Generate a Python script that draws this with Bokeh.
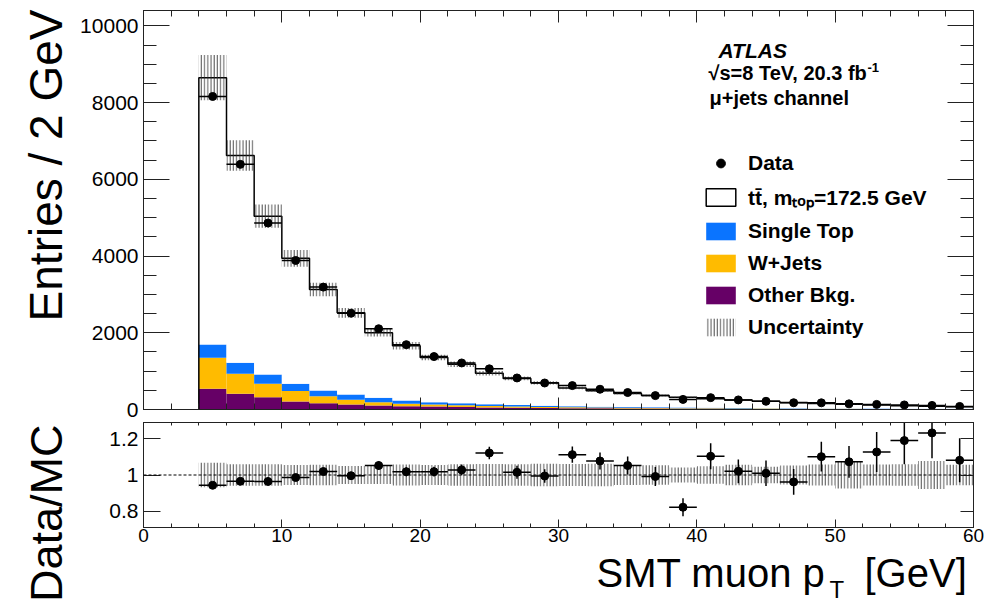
import math
import numpy as np
from bokeh.plotting import figure
from bokeh.layouts import column, row
from bokeh.models import (ColumnDataSource, Range1d, LinearAxis, FixedTicker, Label,
                          Legend, LegendItem, Span)
from bokeh.embed import file_html
from bokeh.resources import INLINE

# ---------------- data ----------------
bin_low = [4, 6, 8, 10, 12, 14, 16, 18, 20, 22, 24, 26, 28, 30, 32, 34, 36, 38, 40, 42,
           44, 46, 48, 50, 52, 54, 56, 58]
bin_high = [6, 8, 10, 12, 14, 16, 18, 20, 22, 24, 26, 28, 30, 32, 34, 36, 38, 40, 42, 44,
            46, 48, 50, 52, 54, 56, 58, 60]
data_counts = [8160, 6390, 4860, 3885, 3190, 2510, 2105, 1690, 1380, 1213,
               1060, 822, 691, 623, 528, 442, 362, 263, 309, 250,
               214, 176, 174, 147, 133, 119, 106, 80]
data_err = [90, 80, 70, 62, 56, 50, 46, 41, 37, 35,
            33, 29, 26, 25, 23, 21, 19, 16, 20, 16,
            15, 13, 13, 12, 13, 13, 12, 9]
ttbar = [6955, 5403, 4127, 3268, 2635, 2129, 1696, 1425, 1164, 1020,
         810, 695, 596, 474, 416, 356, 309, 271, 237, 206,
         178, 152, 130, 112, 95, 79, 68, 57]
single_top = [347, 287, 243, 192, 147, 139, 113, 87, 61, 50,
              42, 36, 31, 27, 23, 20, 17, 15, 13, 12,
              10, 9, 8, 7, 7, 6, 5, 5]
w_jets = [808, 520, 350, 270, 183, 122, 87, 61, 52, 45,
          38, 32, 28, 24, 21, 18, 16, 14, 12, 11,
          10, 9, 8, 7, 6, 6, 5, 5]
other_bkg = [540, 410, 320, 210, 165, 130, 104, 87, 78, 65,
             55, 47, 40, 35, 30, 26, 23, 20, 18, 16,
             14, 13, 12, 11, 10, 9, 8, 7]
syst_rel = [0.068, 0.060, 0.060, 0.055, 0.056, 0.050, 0.050, 0.058, 0.055, 0.060,
            0.061, 0.060, 0.062, 0.061, 0.062, 0.055, 0.054, 0.042, 0.048, 0.056,
            0.046, 0.052, 0.058, 0.075, 0.058, 0.060, 0.077, 0.056]

x_ticks = [0, 10, 20, 30, 40, 50, 60]
x_minor_ticks = list(range(0, 61, 2))
y_ticks = [0, 2000, 4000, 6000, 8000, 10000]
y_minor_ticks = list(range(0, 10401, 500))
ratio_ticks = [0.8, 1.0, 1.2]
ratio_tick_labels = {0.8: "0.8", 1: "1", 1.2: "1.2"}

# ---------------- layout constants (page pixels) ----------------
FONT = "Liberation Sans"
W = 991
LEFT_W = 74                 # strip holding the rotated y titles
MAIN_W = W - LEFT_W
FL, FR = 143, 973           # frame left / right on the page
TOP_H = 422
TOP_FT, TOP_FB = 10, 409
RAT_FT, RAT_FB = 422, 527
FOOT_T = 550
PAGE_H = 603
X_MAX = 60
Y_MAX = 10400
R_MIN, R_MAX = 0.71, 1.29
BASE_SHIFT = 0.36           # em offset between a Label anchor and the drawn baseline

C_ST = "#0a74ff"
C_WJ = "#ffbb00"
C_OT = "#660066"
HATCH = dict(hatch_pattern="vertical_line", hatch_color="#2a2a2a", hatch_alpha=0.8,
             hatch_scale=3.2, hatch_weight=1)


def top_x(px):
    return (px - FL) * X_MAX / (FR - FL)


def top_y(py):
    return (TOP_FB - py) * Y_MAX / (TOP_FB - TOP_FT)


# ---------------- derived arrays ----------------
lo = np.array(bin_low, float)
hi = np.array(bin_high, float)
ctr = (lo + hi) / 2
ot = np.array(other_bkg, float)
wj = ot + np.array(w_jets, float)
st = wj + np.array(single_top, float)
tot = st + np.array(ttbar, float)
dat = np.array(data_counts, float)
derr = np.array(data_err, float)
srel = np.array(syst_rel, float)

src = ColumnDataSource(dict(
    lo=lo, hi=hi, ctr=ctr, zero=np.zeros_like(lo), ot=ot, wj=wj, st=st, tot=tot,
    up=tot * (1 + srel), dn=tot * (1 - srel),
    dat=dat, dlo=dat - derr, dhi=dat + derr,
    ratio=dat / tot, rlo=(dat - derr) / tot, rhi=(dat + derr) / tot,
    bup=1 + srel, bdn=1 - srel,
))

step_x = [bin_low[0]]
step_y = [0.0]
for l, h, t in zip(lo, hi, tot):
    step_x += [l, h]
    step_y += [t, t]
step_x.append(bin_high[-1])
step_y.append(0.0)

x_range = Range1d(0, X_MAX)


def style_axis(ax, major_in, minor_in, labels=True, ticks=None, minor=None):
    ax.ticker = FixedTicker(ticks=ticks, minor_ticks=minor if minor is not None else [])
    ax.major_tick_in = major_in
    ax.major_tick_out = 0
    ax.minor_tick_in = minor_in
    ax.minor_tick_out = 0
    ax.axis_line_color = "#222222"
    ax.axis_line_width = 1
    ax.major_tick_line_color = "#222222"
    ax.minor_tick_line_color = "#222222"
    ax.major_label_text_font = FONT
    ax.major_label_text_font_size = "21px"
    ax.major_label_text_color = "black"
    ax.major_label_standoff = 5
    if not labels:
        ax.major_label_text_color = None
        ax.major_label_standoff = 0


def base_fig(height, y_range, b_top, b_bottom):
    f = figure(width=MAIN_W, height=height, x_range=x_range, y_range=y_range,
               output_backend="svg", toolbar_location=None,
               min_border_left=FL - LEFT_W, min_border_right=W - FR,
               min_border_top=b_top, min_border_bottom=b_bottom,
               background_fill_color="white", border_fill_color="white")
    f.grid.visible = False
    f.outline_line_color = "#222222"
    f.outline_line_width = 1
    return f


def text_canvas(width, height, xr, yr):
    f = figure(width=width, height=height, x_range=Range1d(*xr), y_range=Range1d(*yr),
               output_backend="svg", toolbar_location=None,
               x_axis_location=None, y_axis_location=None,
               min_border=0, min_border_left=0, min_border_right=0,
               min_border_top=0, min_border_bottom=0,
               background_fill_color="white", border_fill_color="white")
    f.grid.visible = False
    f.outline_line_color = None
    return f


def label(x, y, text, size, **kw):
    return Label(x=x, y=y, text=text, text_font=FONT, text_color="black",
                 text_baseline="alphabetic", text_font_size=f"{size}px", **kw)


def top_label(px, py, text, size, **kw):
    return label(top_x(px), top_y(py - BASE_SHIFT * size), text, size, **kw)


# ---------------- top panel ----------------
p = base_fig(TOP_H, Range1d(0, Y_MAX), TOP_FT, TOP_H - TOP_FB)
style_axis(p.xaxis[0], 12, 6, labels=False, ticks=x_ticks, minor=x_minor_ticks)
style_axis(p.yaxis[0], 26, 13, ticks=y_ticks, minor=y_minor_ticks)
ax_top = LinearAxis()
style_axis(ax_top, 12, 6, labels=False, ticks=x_ticks, minor=x_minor_ticks)
p.add_layout(ax_top, "above")
ax_right = LinearAxis()
style_axis(ax_right, 26, 13, labels=False, ticks=y_ticks, minor=y_minor_ticks)
p.add_layout(ax_right, "right")

r_ot = p.quad(left="lo", right="hi", bottom="zero", top="ot", source=src,
              fill_color=C_OT, line_color=None)
r_wj = p.quad(left="lo", right="hi", bottom="ot", top="wj", source=src,
              fill_color=C_WJ, line_color=None)
r_st = p.quad(left="lo", right="hi", bottom="wj", top="st", source=src,
              fill_color=C_ST, line_color=None)
p.quad(left="lo", right="hi", bottom="st", top="tot", source=src,
       fill_color="white", line_color=None)
# legend key only (a single undefined point, never drawn in the plot area)
nan = float("nan")
r_tt_key = p.quad(left=[nan], right=[nan], top=[nan], bottom=[nan],
                  fill_color="white", line_color="black", line_width=1.5)
p.line(x=step_x, y=step_y, line_color="black", line_width=1.5)
r_unc = p.quad(left="lo", right="hi", bottom="dn", top="up", source=src,
               fill_alpha=0, line_color=None, **HATCH)
p.segment(x0="lo", y0="dat", x1="hi", y1="dat", source=src, line_color="black", line_width=1.5)
p.segment(x0="ctr", y0="dlo", x1="ctr", y1="dhi", source=src, line_color="black", line_width=1.5)
r_data = p.scatter(x="ctr", y="dat", source=src, marker="circle", size=8,
                   fill_color="black", line_color="black")

legend = Legend(items=[
    LegendItem(label="Data", renderers=[r_data]),
    LegendItem(label="t\u0074\u0304, m\u209c\u2092\u209a=172.5 GeV", renderers=[r_tt_key]),
    LegendItem(label="Single Top", renderers=[r_st]),
    LegendItem(label="W+Jets", renderers=[r_wj]),
    LegendItem(label="Other Bkg.", renderers=[r_ot]),
    LegendItem(label="Uncertainty", renderers=[r_unc]),
], location=(702 - FL, TOP_FB - 339))
legend.padding = 0
legend.margin = 0
legend.spacing = 8
legend.glyph_width = 37
legend.glyph_height = 22
legend.label_standoff = 9
legend.label_text_font = FONT
legend.label_text_font_size = "21px"
legend.label_text_font_style = "bold"
legend.label_text_color = "black"
legend.border_line_alpha = 0
legend.background_fill_alpha = 0
p.add_layout(legend)

p.add_layout(top_label(718, 58, "ATLAS", 21, text_font_style="bold italic"))
p.add_layout(top_label(708, 80, "\u221as=8 TeV, 20.3 fb", 20, text_font_style="bold"))
p.add_layout(top_label(867, 72, "-1", 13, text_font_style="bold"))
p.add_layout(top_label(709, 105, "\u03bc+jets channel", 20, text_font_style="bold"))

# ---------------- ratio panel ----------------
RAT_H = FOOT_T - TOP_H
r = base_fig(RAT_H, Range1d(R_MIN, R_MAX), RAT_FT - TOP_H, FOOT_T - RAT_FB)
style_axis(r.xaxis[0], 8, 4, ticks=x_ticks, minor=x_minor_ticks)
r.xaxis[0].major_label_standoff = 1
r.xaxis[0].major_label_text_font_size = "19px"
style_axis(r.yaxis[0], 17, 0, ticks=ratio_ticks)
r.yaxis[0].major_label_overrides = ratio_tick_labels
r_top = LinearAxis()
style_axis(r_top, 6, 3, labels=False, ticks=x_ticks, minor=x_minor_ticks)
r.add_layout(r_top, "above")
r_right = LinearAxis()
style_axis(r_right, 13, 0, labels=False, ticks=ratio_ticks)
r.add_layout(r_right, "right")

r.quad(left="lo", right="hi", bottom="bdn", top="bup", source=src,
       fill_alpha=0, line_color=None, **HATCH)
r.add_layout(Span(location=1, dimension="width", line_color="black",
                  line_dash="3 2", line_width=1))
r.segment(x0="lo", y0="ratio", x1="hi", y1="ratio", source=src, line_color="black", line_width=1.5)
r.segment(x0="ctr", y0="rlo", x1="ctr", y1="rhi", source=src, line_color="black", line_width=1.5)
r.scatter(x="ctr", y="ratio", source=src, marker="circle", size=8,
          fill_color="black", line_color="black")

# ---------------- free-standing titles (page-pixel canvases) ----------------
left = text_canvas(LEFT_W, PAGE_H, (0, LEFT_W), (PAGE_H, 0))
left.add_layout(label(62 - BASE_SHIFT * 46, 9, "Entries / 2 GeV", 46,
                      angle=math.pi / 2, text_align="right"))
left.add_layout(label(62 - BASE_SHIFT * 45, 424, "Data/MC", 45,
                      angle=math.pi / 2, text_align="right"))

# the footer's frame is aligned by the column with the panels' frames (FL..FR)
foot = text_canvas(MAIN_W, PAGE_H - FOOT_T, (FL, FR), (PAGE_H, FOOT_T))
TITLE_PX = 40
foot.add_layout(label(596, 587 - BASE_SHIFT * TITLE_PX, "SMT muon p", TITLE_PX,
                      text_align="left"))
foot.add_layout(label(829, 598 - BASE_SHIFT * 24, "T", 24, text_align="left"))
foot.add_layout(label(864, 587 - BASE_SHIFT * TITLE_PX, "[GeV]", TITLE_PX,
                      text_align="left"))

layout = row(left, column(p, r, foot, spacing=0), spacing=0)
open("out.html", "w").write(file_html(layout, INLINE))
